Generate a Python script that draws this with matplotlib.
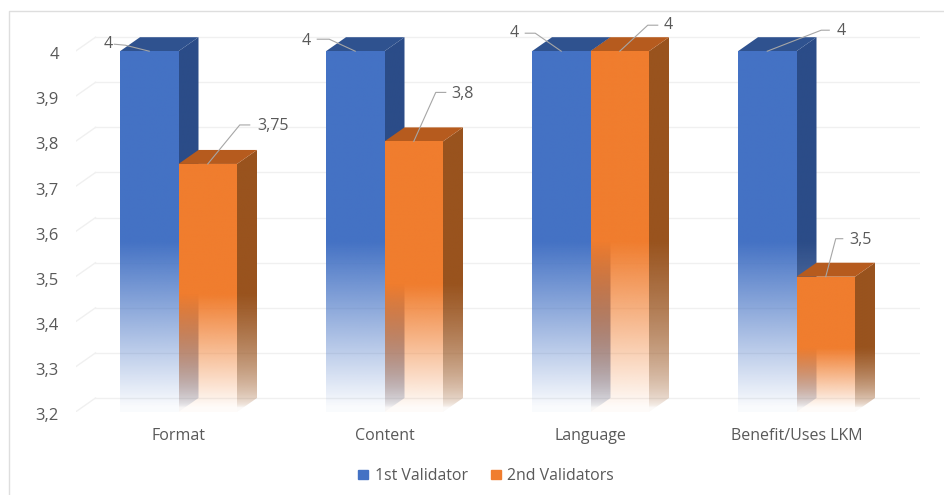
import numpy as np
import matplotlib
matplotlib.use('Agg')
import matplotlib.pyplot as plt
from matplotlib.colors import to_rgb
from matplotlib.lines import Line2D
from matplotlib.patches import Patch, Polygon
from matplotlib.transforms import ScaledTranslation

categories = ['Format', 'Content', 'Language', 'Benefit/Uses LKM']
first_validator = [4, 4, 4, 4]
second_validators = [3.75, 3.8, 4, 3.5]
first_labels = ['4', '4', '4', '4']
second_labels = ['3,75', '3,8', '4', '3,5']
y_ticks = [3.2, 3.3, 3.4, 3.5, 3.6, 3.7, 3.8, 3.9, 4.0]
y_tick_labels = ['3,2', '3,3', '3,4', '3,5', '3,6', '3,7', '3,8', '3,9', '4']

# leader line offsets in pixels from the top of the bar: elbow, line end, text
first_offsets = [((-24, 6), (-35, 7), (-41, 7)),
                 ((-26, 12), (-38, 12), (-49, 10)),
                 ((-26, 18), (-36, 18), (-47, 18)),
                 ((54, 21), (62, 21), (74, 20))]
second_offsets = [((32, 39), (42, 39), (65, 38)),
                  ((22, 49), (32, 49), (49, 47)),
                  ((28, 26), (38, 26), (48, 26)),
                  ((10, 38), (17, 38), (35, 37))]

FONT = 'Open Sans'
TEXT = '#595959'
GRID = '#f0f0f0'
BLUE = ('#4472c4', '#2b4c88', '#2f528f')
ORANGE = ('#f07d2e', '#99531e', '#b65b1e')

PX_X = 1 / 206  # data units per pixel
PX_Y = 1 / 451
BAR_W = 58.5 * PX_X
DX = 20 * PX_X
DY = 14 * PX_Y
Y_MIN = 3.2
FADE = 0.47  # part of the bar height that fades out

plt.rcParams['font.family'] = FONT
fig = plt.figure(figsize=(9.44, 4.95), dpi=100)
ax = fig.add_axes([75.5 / 944, 83 / 495, 844.6 / 944, 405.9 / 495])
ax.patch.set_alpha(0)
order = [2]


def next_z():
    order[0] += 1
    return order[0]


def faded_face(points, color, top, gamma=1.0):
    # polygon filled with a colour that fades towards the floor of the chart
    pts = np.array(points)
    start = Y_MIN + (top - Y_MIN) * FADE
    y0, y1 = pts[:, 1].min(), pts[:, 1].max()
    yy = np.linspace(y0, y1, 400)
    alpha = np.clip((yy - Y_MIN - 0.01) / (start - Y_MIN - 0.01), 0, 1) ** gamma
    alpha = 0.03 + 0.97 * alpha
    img = np.ones((400, 1, 4))
    img[:, :, :3] = to_rgb(color)
    img[:, 0, 3] = alpha
    z = next_z()
    im = ax.imshow(img, extent=(pts[:, 0].min(), pts[:, 0].max(), y0, y1), origin='lower',
                   aspect='auto', interpolation='bilinear', zorder=z)
    clip = Polygon(pts, transform=ax.transData, fc='none', ec='none')
    ax.add_patch(clip)
    im.set_clip_path(clip)


def draw_bar(x, value, colors):
    left = x - BAR_W / 2
    right = x + BAR_W / 2
    faded_face([(right, Y_MIN), (right + DX, Y_MIN + DY), (right + DX, value + DY), (right, value)],
               colors[1], value, gamma=0.55)
    ax.add_patch(Polygon([(left, value), (right, value), (right + DX, value + DY), (left + DX, value + DY)],
                         fc=colors[2], ec='none', zorder=next_z()))
    faded_face([(left, Y_MIN), (right, Y_MIN), (right, value), (left, value)], colors[0], value)


def draw_label(x, value, text, offsets):
    elbow, end, pos = offsets
    xs = [x, x + elbow[0] * PX_X, x + end[0] * PX_X]
    ys = [value, value + elbow[1] * PX_Y, value + end[1] * PX_Y]
    ax.plot(xs, ys, color='#a6a6a6', lw=0.8, zorder=100)
    ax.text(x + pos[0] * PX_X, value + pos[1] * PX_Y, text, color=TEXT, fontsize=11.5,
            ha='center', va='center', zorder=101)


# gridlines on the back wall and the side wall
for t in y_ticks:
    ax.plot([-0.5 + DX, 3.5 + DX], [t + DY, t + DY], color=GRID, lw=1, zorder=1)
    ax.plot([-0.5, -0.5 + DX], [t, t + DY], color=GRID, lw=1, zorder=1)

offset = BAR_W / 2
for i in range(len(categories)):
    draw_bar(i - offset, first_validator[i], BLUE)
    draw_bar(i + offset, second_validators[i], ORANGE)

for i in range(len(categories)):
    draw_label(i - offset, first_validator[i], first_labels[i], first_offsets[i])
    draw_label(i + offset, second_validators[i], second_labels[i], second_offsets[i])

ax.set_xlim(-0.5, 3.6)
ax.set_ylim(Y_MIN, 4.1)
ax.set_xticks(range(len(categories)))
ax.set_xticklabels(categories)
ax.set_yticks(y_ticks)
ax.set_yticklabels(y_tick_labels)
ax.tick_params(axis='x', length=0, pad=11.5, labelsize=11.5, labelcolor=TEXT)
ax.tick_params(axis='y', length=0, pad=12, labelsize=12, labelcolor=TEXT)
nudge = ScaledTranslation(0, -1.5 / 72, fig.dpi_scale_trans)
for lab in ax.get_yticklabels():
    lab.set_transform(lab.get_transform() + nudge)
for spine in ax.spines.values():
    spine.set_visible(False)

handles = [Patch(color=BLUE[0], label='1st Validator'), Patch(color=ORANGE[0], label='2nd Validators')]
fig.legend(handles=handles, loc='center', bbox_to_anchor=(486 / 944, 1 - 476 / 495), ncol=2, frameon=False,
           fontsize=11.4, labelcolor=TEXT, handlelength=0.65, handleheight=0.5, handletextpad=0.4, columnspacing=1.45)

# thin frame left over from the screenshot
fig.add_artist(Line2D([8.5 / 944, 8.5 / 944, 1], [0, 1 - 11 / 495, 1 - 11 / 495], color='#dedede', lw=1))

fig.savefig('out.png', dpi=100)
